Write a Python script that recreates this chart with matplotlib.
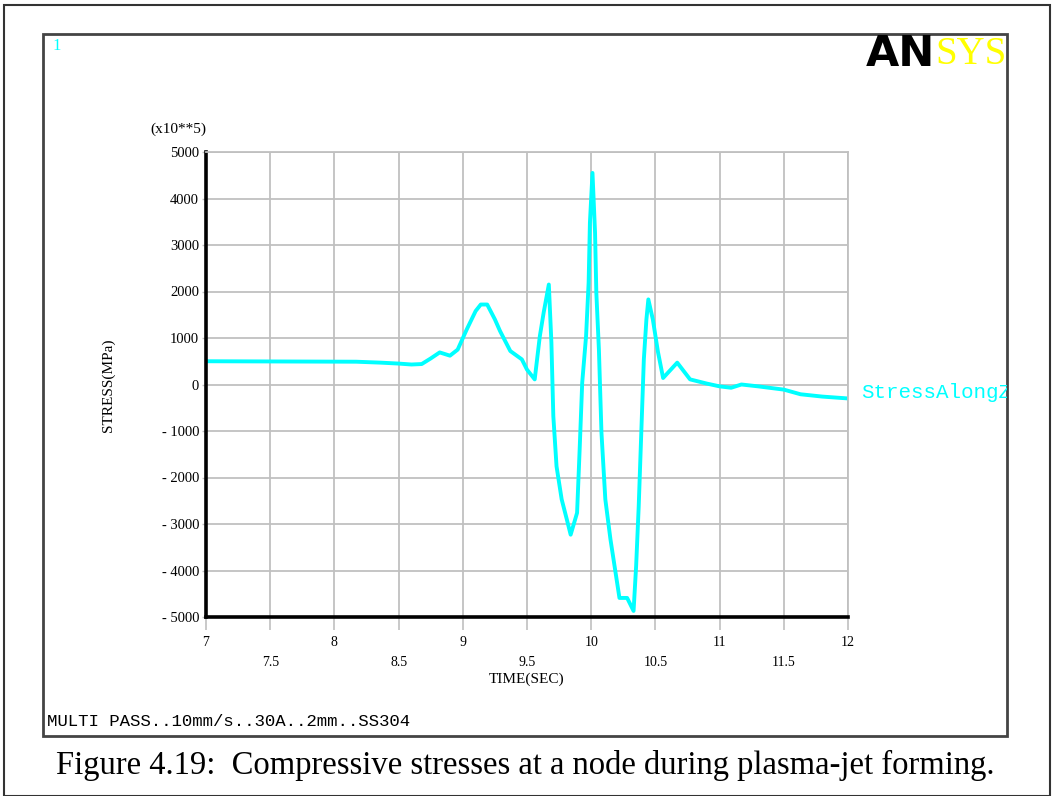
import matplotlib
matplotlib.use("Agg")
import matplotlib.pyplot as plt
from matplotlib.patches import Rectangle
from matplotlib.ticker import FixedLocator, FixedFormatter

# stress history at the node (time in s, stress in units of 1e5)
time_sec = [7.0, 8.17, 8.36, 8.50, 8.60, 8.68, 8.75, 8.82, 8.90, 8.96,
            9.03, 9.10, 9.14, 9.19, 9.25, 9.29, 9.37, 9.46, 9.50, 9.56,
            9.60, 9.63, 9.67, 9.69, 9.705, 9.73, 9.77, 9.81, 9.84, 9.89,
            9.91, 9.93, 9.96, 9.98, 9.99, 10.01, 10.03, 10.04, 10.06, 10.08,
            10.11, 10.15, 10.19, 10.22, 10.28, 10.33, 10.35, 10.37, 10.39, 10.41,
            10.43, 10.445, 10.48, 10.52, 10.56, 10.67, 10.77, 10.9, 11.0, 11.09,
            11.17, 11.3, 11.5, 11.63, 11.8, 12.0]
stress = [500, 490, 470, 450, 430, 440, 560, 690, 620, 750,
          1180, 1580, 1720, 1720, 1400, 1150, 720, 540, 320, 110,
          1040, 1550, 2150, 900, -680, -1760, -2470, -2900, -3230, -2760,
          -1400, 40, 1040, 2190, 3480, 4550, 3260, 1970, 750, -1040,
          -2470, -3330, -4050, -4590, -4590, -4870, -3900, -2620, -1040, 540,
          1400, 1830, 1400, 700, 140, 470, 110, 20, -40, -70,
          0, -40, -110, -210, -260, -300]

x_major = [7, 8, 9, 10, 11, 12]
x_minor = [7.5, 8.5, 9.5, 10.5, 11.5]
y_ticks = [-5000, -4000, -3000, -2000, -1000, 0, 1000, 2000, 3000, 4000, 5000]

W, H = 1054, 796
CYAN = "#00ffff"
GRID = "#c0c0c0"
TICK_FONT = "Liberation Serif"
MONO = "Liberation Mono"

fig = plt.figure(figsize=(W / 100, H / 100), dpi=100)

# outer page border
fig.patches.append(Rectangle((4 / W, 0), (1050 - 4) / W, (H - 5) / H,
                             transform=fig.transFigure, fill=False,
                             edgecolor="#333333", linewidth=1.5))

# inner ANSYS window, in pixel coordinates
bx0, by0, bx1, by1 = 43, 34, 1007, 736
frame = fig.add_axes([bx0 / W, 1 - by1 / H, (bx1 - bx0) / W, (by1 - by0) / H], zorder=0)
frame.set_xlim(bx0, bx1)
frame.set_ylim(by1, by0)
frame.axis("off")
frame.add_patch(Rectangle((bx0, by0), bx1 - bx0, by1 - by0, fill=False,
                          edgecolor="#444444", linewidth=2, clip_on=False))

frame.text(52, 46, "1", color=CYAN, fontsize=12, family=TICK_FONT, va="center")
frame.text(935, 54, "AN", color="black", fontsize=31, weight="bold",
           family="DejaVu Sans", ha="right", va="center")
frame.text(935, 54, "SYS", color="#ffff00", fontsize=28, family="Liberation Serif",
           ha="left", va="center")
frame.text(150, 129, "(x10**5)", fontsize=11, family=TICK_FONT, va="center")
frame.text(108, 385, "STRESS(MPa)", fontsize=11, family=TICK_FONT, rotation=90,
           ha="center", va="center")
frame.text(527, 679, "TIME(SEC)", fontsize=11, family=TICK_FONT, ha="center", va="center")
frame.text(861, 393, "StressAlongZ", color=CYAN, fontsize=15, family=MONO,
           va="center", clip_on=True)
frame.text(47, 722, "MULTI PASS..10mm/s..30A..2mm..SS304", fontsize=12.5,
           family=MONO, va="center")

# plot area
ax = fig.add_axes([206 / W, 1 - 617 / H, (848 - 206) / W, (617 - 152) / H], zorder=1)
ax.plot(time_sec, stress, color=CYAN, linewidth=2.8)
ax.set_xlim(7, 12)
ax.set_ylim(-5000, 5000)

ax.xaxis.set_major_locator(FixedLocator(x_major))
ax.xaxis.set_major_formatter(FixedFormatter([str(v) for v in x_major]))
ax.xaxis.set_minor_locator(FixedLocator(x_minor))
ax.xaxis.set_minor_formatter(FixedFormatter([str(v) for v in x_minor]))
ax.set_yticks(y_ticks)
ax.set_yticklabels([f"- {abs(v)}" if v < 0 else str(v) for v in y_ticks])

ax.tick_params(axis="x", which="major", direction="out", length=9, width=1.2,
               color=GRID, pad=5, labelsize=10)
ax.tick_params(axis="x", which="minor", direction="out", length=9, width=1.2,
               color=GRID, pad=19, labelsize=10)
ax.tick_params(axis="y", direction="out", length=3, width=1, color=GRID,
               pad=2, labelsize=10.5)
for lab in ax.get_xticklabels(which="both") + ax.get_yticklabels():
    lab.set_family(TICK_FONT)

ax.grid(True, which="both", axis="x", color=GRID, linewidth=1.3)
ax.grid(True, which="major", axis="y", color=GRID, linewidth=1.3)
ax.set_axisbelow(True)

ax.spines["left"].set_color("black")
ax.spines["left"].set_linewidth(2.6)
ax.spines["bottom"].set_color("black")
ax.spines["bottom"].set_linewidth(2.6)
for side in ("top", "right"):
    ax.spines[side].set_color(GRID)
    ax.spines[side].set_linewidth(1.3)

fig.text(525 / W, 1 - 765 / H,
         "Figure 4.19:  Compressive stresses at a node during plasma-jet forming.",
         fontsize=23.5, family="Liberation Serif", ha="center", va="center")

fig.savefig("out.png", dpi=100)
